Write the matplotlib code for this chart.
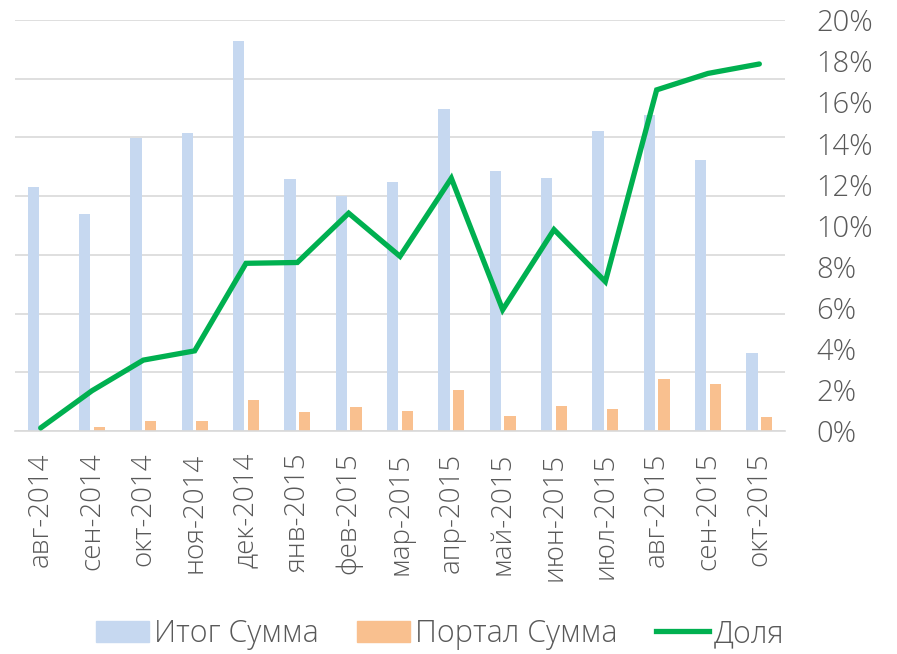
import matplotlib
matplotlib.use("Agg")
import matplotlib.pyplot as plt
import numpy as np
from matplotlib.ticker import FuncFormatter, MultipleLocator
from matplotlib.patches import Patch
from matplotlib.lines import Line2D

# --------------------------------------------------------------------
# DATA
# --------------------------------------------------------------------
months = ['авг-2014', 'сен-2014', 'окт-2014', 'ноя-2014', 'дек-2014',
          'янв-2015', 'фев-2015', 'мар-2015', 'апр-2015', 'май-2015',
          'июн-2015', 'июл-2015', 'авг-2015', 'сен-2015', 'окт-2015']

# totals (arbitrary units, left axis is hidden)
itog = [41.6, 37.0, 49.9, 50.7, 66.4, 42.9, 40.1, 42.4, 54.8, 44.2,
        43.1, 51.1, 53.8, 46.2, 13.3]
portal = [0.0, 0.7, 1.65, 1.75, 5.2, 3.2, 4.1, 3.4, 6.9, 2.55,
          4.3, 3.7, 8.8, 7.95, 2.3]
# share, %
dolya = [0.15, 1.96, 3.45, 3.9, 8.16, 8.2, 10.6, 8.5, 12.3, 5.9,
         9.8, 7.27, 16.6, 17.4, 17.86]

blue = '#c6d8f0'
orange = '#f9c08f'
green = '#00b050'
grey = '#595959'
font = ['Open Sans', 'DejaVu Sans']

# --------------------------------------------------------------------
# PLOT
# --------------------------------------------------------------------
fig = plt.figure(figsize=(8.97, 6.54), dpi=100)
ax = fig.add_axes([15 / 897, 1 - 431 / 654, 770 / 897, 411 / 654])

x = np.arange(len(months))
w = 0.22
ax.bar(x - 0.145, itog, w, color=blue, zorder=2)
ax.bar(x + 0.145, portal, w, color=orange, zorder=2)

ax2 = ax.twinx()
ax2.plot(x, np.array(dolya) / 100, color=green, linewidth=3.8,
         solid_capstyle='round', solid_joinstyle='miter', zorder=3)

ax.set_xlim(-0.5, len(months) - 0.5)
ax.set_ylim(0, 70)
ax.yaxis.set_major_locator(MultipleLocator(10))
ax.grid(axis='y', color='#d9d9d9', linewidth=1.2, zorder=0)
ax.set_axisbelow(True)
ax.tick_params(axis='y', left=False, right=False, labelleft=False, labelright=False)
ax.tick_params(axis='x', bottom=False, pad=12)
for s in ['top', 'right', 'left']:
    ax.spines[s].set_visible(False)
ax.spines['bottom'].set_color('#d9d9d9')
ax.spines['bottom'].set_linewidth(1.2)
ax.set_xticks(x)
ax.set_xticklabels(months, rotation=90, fontsize=20, color=grey,
                   family=font, fontweight='light')

ax2.set_ylim(0, 0.20)
ax2.yaxis.set_major_locator(MultipleLocator(0.02))
ax2.yaxis.set_major_formatter(FuncFormatter(lambda v, p: f'{v * 100:.0f}%'))
ax2.tick_params(axis='y', left=False, right=False, pad=19, labelsize=21, labelcolor=grey)
for lab in ax2.get_yticklabels():
    lab.set_family(font)
    lab.set_fontweight('light')
for s in ax2.spines.values():
    s.set_visible(False)

handles = [Patch(color=blue, label='Итог Сумма'),
           Patch(color=orange, label='Портал Сумма'),
           Line2D([], [], color=green, linewidth=3.8, label='Доля')]
leg = fig.legend(handles=handles, loc='center', bbox_to_anchor=(440 / 897, 1 - 634 / 654),
                 ncol=3, frameon=False, handlelength=1.75, handleheight=0.7,
                 handletextpad=0.15, columnspacing=1.25,
                 prop={'family': font, 'size': 22, 'weight': 'light'})
for t in leg.get_texts():
    t.set_color(grey)

plt.savefig('out.png', dpi=100)
